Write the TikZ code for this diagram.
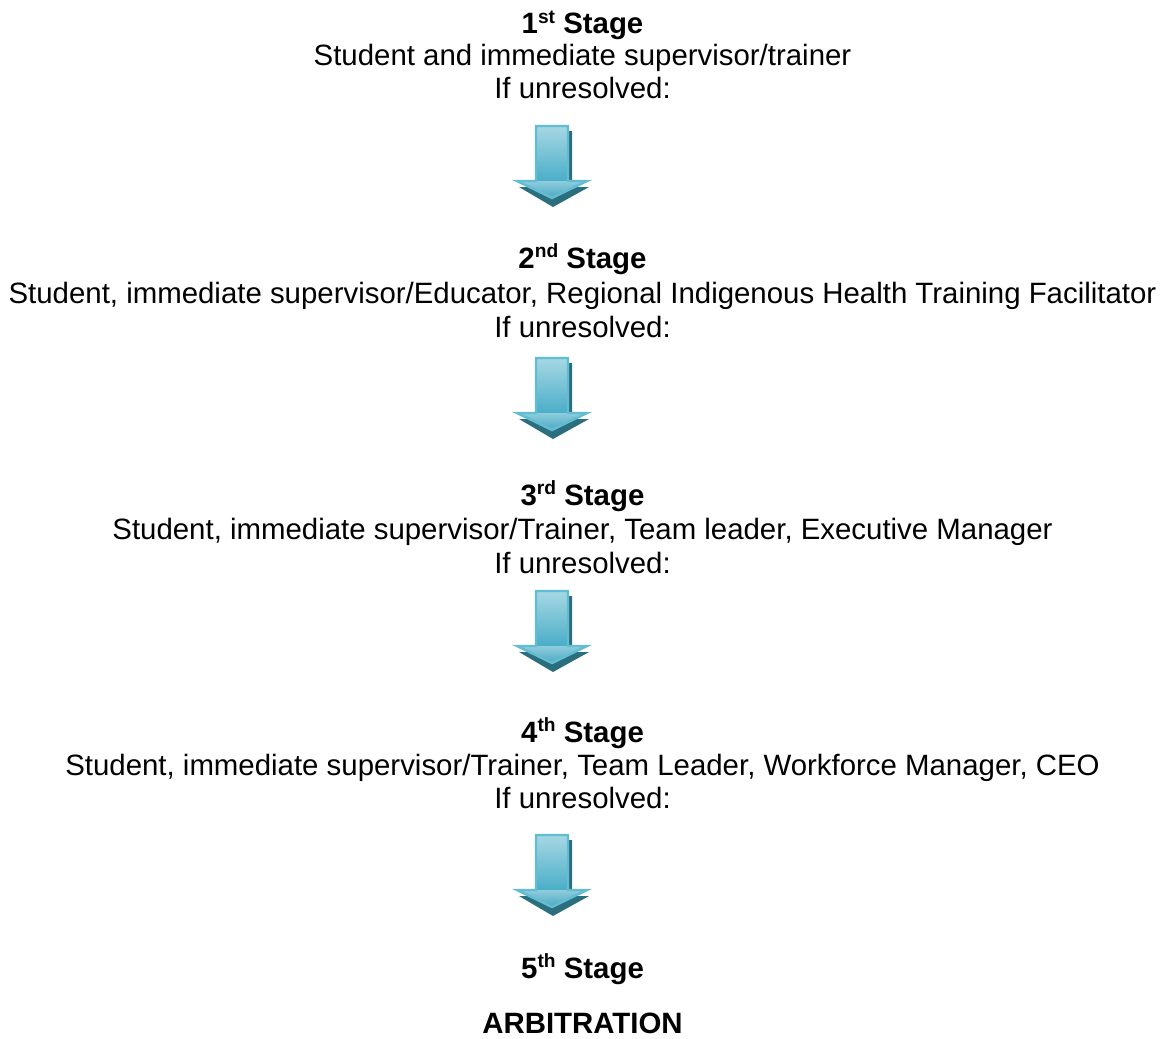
\documentclass[tikz,border=0pt]{standalone}
\usepackage{fontspec}
\setmainfont{Liberation Sans}
\definecolor{shafttop}{HTML}{A6D7E4}
\definecolor{shaftbot}{HTML}{4AAEC7}
\definecolor{headtop}{HTML}{8FCDDD}
\definecolor{headbot}{HTML}{4AA8C1}
\definecolor{arrowedge}{HTML}{62BCD2}
\definecolor{arrowshade}{HTML}{2B6E7E}
\newcommand\ordsup[1]{\raisebox{0.36em}{\fontsize{9.6}{10}\selectfont #1}}
% one shaded block arrow pointing down, top edge at #1
\newcommand\flowarrow[1]{%
  \path[fill=arrowshade] (539,#1+5) -- (572,#1+5) -- (572,#1+61) -- (589,#1+61)
     -- (553,#1+81) -- (519,#1+61) -- (539,#1+61) -- cycle;
  \path[top color=shafttop, bottom color=shaftbot] (536,#1) rectangle (568,#1+55);
  \path[top color=headtop, bottom color=headbot] (517,#1+55) -- (587,#1+55) -- (552,#1+72) -- cycle;
  \draw[arrowedge, line width=1.2pt, line join=miter] (536,#1) -- (568,#1) -- (568,#1+55) -- (587,#1+55)
     -- (552,#1+72) -- (517,#1+55) -- (536,#1+55) -- cycle;
}
\begin{document}
\begin{tikzpicture}[x=0.5pt,y=-0.5pt,
  txt/.style={anchor=base, inner sep=0pt, font=\fontsize{14.7}{16}\selectfont},
  stagehead/.style={anchor=base, inner sep=0pt, font=\fontsize{14.7}{16}\selectfont\bfseries}]
\useasboundingbox (0,0) rectangle (1165,1038);
\fill[white] (0,0) rectangle (1165,1038);

% stage 1
\node[stagehead] (s1) at (582.5,34) {1\ordsup{st} Stage};
\node[txt] (s1who) at (582.5,66) {Student and immediate supervisor/trainer};
\node[txt] (s1if) at (582.5,98) {If unresolved:};
\flowarrow{126}

% stage 2
\node[stagehead] (s2) at (582.5,268) {2\ordsup{nd} Stage};
\node[txt] (s2who) at (582.5,303) {Student, immediate supervisor/Educator, Regional Indigenous Health Training Facilitator};
\node[txt] (s2if) at (582.5,337) {If unresolved:};
\flowarrow{358}

% stage 3
\node[stagehead] (s3) at (582.5,505) {3\ordsup{rd} Stage};
\node[txt] (s3who) at (582.5,539) {Student, immediate supervisor/Trainer, Team leader, Executive Manager};
\node[txt] (s3if) at (582.5,573) {If unresolved:};
\flowarrow{591}

% stage 4
\node[stagehead] (s4) at (582.5,742) {4\ordsup{th} Stage};
\node[txt] (s4who) at (582.5,775) {Student, immediate supervisor/Trainer, Team Leader, Workforce Manager, CEO};
\node[txt] (s4if) at (582.5,808) {If unresolved:};
\flowarrow{835}

% stage 5
\node[stagehead] (s5) at (582.5,978) {5\ordsup{th} Stage};
\node[stagehead] (arb) at (582.5,1033) {ARBITRATION};
\end{tikzpicture}
\end{document}
